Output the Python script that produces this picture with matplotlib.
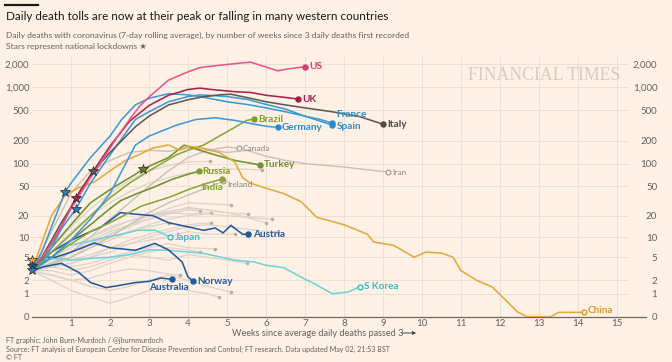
import matplotlib
matplotlib.use('Agg')
import matplotlib.pyplot as plt
import numpy as np
from matplotlib.lines import Line2D

plt.rcParams['font.family'] = ['Lato', 'DejaVu Sans']

BG = '#fff1e5'
W, H = 672, 362

# ---------------- data (weeks since 3 daily deaths, 7-day avg deaths) -------------
y_ticks = [0, 1, 2, 5, 10, 20, 50, 100, 200, 500, 1000, 2000]
y_tick_labels = ['0', '1', '2', '5', '10', '20', '50', '100', '200', '500', '1,000', '2,000']
x_ticks = list(range(1, 16))

us_w = [0, 0.25, 0.5, 0.75, 1.0, 1.25, 1.5, 1.75, 2.0, 2.25, 2.5, 2.75, 3.0, 3.5, 4.0, 4.3, 4.8, 5.2, 5.6, 6.0, 6.3, 6.5, 7.0]
us_v = [3, 5, 8, 14, 25, 40, 65, 100, 160, 250, 380, 560, 750, 1250, 1600, 1820, 1950, 2050, 2150, 1850, 1650, 1730, 1870]

uk_w = [0, 0.25, 0.5, 0.75, 1.0, 1.13, 1.5, 2.0, 2.5, 3.0, 3.5, 4.0, 4.3, 4.7, 5.2, 5.6, 6.0, 6.4, 6.83]
uk_v = [3, 5, 8, 14, 26, 35, 70, 170, 360, 580, 790, 940, 980, 930, 880, 860, 790, 750, 705]

italy_w = [0, 0.25, 0.5, 0.75, 1.0, 1.25, 1.57, 2.0, 2.65, 3.0, 3.5, 4.0, 4.36, 4.8, 5.1, 5.5, 6.0, 6.5, 7.0, 7.7, 8.4, 9.0]
italy_v = [3, 5, 9, 16, 26, 45, 79, 140, 305, 420, 590, 690, 750, 800, 815, 740, 650, 590, 540, 480, 415, 330]

spain_w = [0, 0.25, 0.5, 0.85, 1.0, 1.5, 2.0, 2.3, 2.65, 3.0, 3.5, 4.0, 4.36, 5.0, 5.5, 6.0, 6.5, 7.0, 7.4, 7.7]
spain_v = [3, 6, 14, 42, 55, 120, 230, 380, 590, 720, 830, 800, 750, 650, 600, 540, 480, 420, 360, 320]

france_w = [0, 0.25, 0.5, 0.75, 1.13, 1.5, 2.0, 2.65, 3.0, 3.5, 4.0, 4.3, 4.7, 5.0, 5.5, 6.0, 6.5, 7.0, 7.4, 7.7]
france_v = [3, 4, 7, 13, 25, 55, 130, 380, 480, 650, 760, 800, 780, 760, 700, 600, 520, 420, 380, 340]

germany_w = [0, 0.5, 1.0, 1.5, 2.0, 2.65, 3.0, 3.7, 4.2, 4.7, 5.2, 5.7, 6.0, 6.3]
germany_v = [3, 5, 9, 18, 40, 175, 230, 320, 380, 400, 370, 330, 310, 300]

brazil_w = [0, 0.5, 1.0, 1.5, 2.0, 2.5, 3.0, 3.7, 4.0, 4.4, 4.8, 5.2, 5.5, 5.7]
brazil_v = [3, 6, 11, 20, 35, 55, 80, 130, 150, 175, 230, 300, 370, 385]

turkey_w = [0, 0.5, 1.0, 1.5, 2.0, 2.27, 2.65, 2.85, 3.5, 3.9, 4.3, 4.7, 5.2, 5.85]
turkey_v = [3, 7, 15, 30, 45, 55, 72, 85, 120, 175, 150, 130, 110, 96]

russia_w = [0, 0.5, 1.0, 1.5, 2.0, 2.27, 2.7, 3.1, 3.6, 4.0, 4.27]
russia_v = [3, 5, 9, 15, 25, 32, 40, 48, 62, 72, 79]

india_w = [0, 0.5, 1.0, 1.5, 2.0, 2.27, 2.8, 3.55, 4.0, 4.5, 4.86]
india_v = [3, 5, 8, 12, 16, 19, 27, 36, 45, 55, 62]

ireland_w = [0, 0.5, 1.0, 1.5, 2.0, 2.5, 3.0, 3.5, 4.0, 4.5, 4.9]
ireland_v = [3, 4, 5, 7, 10, 15, 22, 30, 38, 48, 58]

canada_w = [0, 0.5, 1.0, 1.5, 2.0, 2.5, 3.0, 3.5, 4.0, 4.5, 5.0, 5.3]
canada_v = [3, 4, 6, 10, 18, 30, 50, 80, 120, 150, 165, 159]

iran_w = [0, 0.5, 1.0, 1.5, 2.0, 2.5, 3.0, 3.5, 4.0, 4.5, 5.0, 5.5, 6.0, 6.5, 7.0, 7.5, 8.0, 8.5, 9.13]
iran_v = [3, 12, 40, 80, 110, 140, 150, 145, 160, 155, 140, 150, 125, 110, 100, 95, 90, 84, 77]

china_w = [0, 0.5, 0.85, 1.2, 1.6, 2.0, 2.4, 2.73, 3.1, 3.5, 3.8, 4.0, 4.36, 4.8, 5.2, 5.4, 5.6, 6.0, 6.45, 6.9, 7.3, 8.0,
           8.6, 8.76, 9.27, 9.8, 10.1, 10.5, 10.8, 11.0, 11.4, 11.8, 12.2, 12.45, 12.7, 13.3, 13.5, 14.15]
china_v = [3, 20, 38, 48, 57, 80, 110, 130, 160, 176, 150, 170, 160, 140, 105, 65, 55, 47, 40, 31, 19, 15,
           11, 8.5, 7.6, 5, 6, 5.8, 5, 3, 2, 1.45, 0.55, 0.15, 0, 0, 0.14, 0.14]

japan_w = [0, 0.3, 0.6, 0.93, 1.4, 1.9, 2.3, 2.7, 3.15, 3.55]
japan_v = [3, 4, 5.5, 7.6, 8.5, 10, 11, 12.5, 12.6, 10]

skorea_w = [0, 0.3, 0.6, 1.0, 1.5, 2.0, 2.5, 3.0, 3.5, 4.36, 5.2, 5.7, 6.0, 6.45, 6.9, 7.3, 7.7, 8.1, 8.4]
skorea_v = [3, 4.5, 4.8, 4.5, 4.8, 5, 5.5, 6.5, 6.4, 5.8, 4.5, 4.2, 3.7, 3.4, 2.3, 1.6, 1.0, 1.1, 1.45]

austria_w = [0, 0.5, 1.0, 1.5, 1.78, 2.27, 2.65, 3.1, 3.5, 4.0, 4.4, 4.7, 4.9, 5.1, 5.4, 5.55]
austria_v = [3, 6, 9, 12, 14, 22, 21, 20, 16, 14, 12.5, 13.5, 11.5, 14.7, 11, 11]

norway_w = [0, 0.3, 0.6, 1.0, 1.6, 2.0, 2.65, 3.15, 3.5, 3.85, 4.0, 4.14]
norway_v = [3, 5, 5, 6, 8.2, 7, 6.4, 8.1, 6.5, 4.2, 2.3, 1.9]

australia_w = [0, 0.3, 0.75, 1.2, 1.5, 1.9, 2.3, 2.65, 3.0, 3.3, 3.58]
australia_v = [3, 3.5, 4.0, 2.8, 1.8, 1.4, 1.6, 1.8, 1.9, 2.2, 2.1]

# other countries (grey, unlabelled); half-week samples from week 0
grey_a = [3, 4, 6, 9, 12, 15, 18, 21, 24, 23]
grey_b = [3, 5, 7, 10, 14, 17, 20, 22, 21, 22]
grey_c = [3, 4, 5, 8, 11, 15, 20, 25, 30, 29, 28]
grey_d = [3, 4, 6, 8, 11, 14, 18, 22, 26, 24, 22, 21]
grey_e = [3, 5, 7, 10, 13, 17, 20, 23, 25, 24, 22, 19, 16]
grey_f = [3, 4, 5, 7, 9, 12, 15, 18, 20, 21, 20, 19, 18]
grey_g = [3, 3.5, 4, 5, 7, 9, 11, 13, 15, 16]
grey_h = [3, 3, 2.5, 3, 4, 5, 6, 7, 6.5, 6]
grey_i = [3, 4, 3.5, 4, 5, 6, 7, 8, 7, 6.7]
grey_j = [3, 3.5, 4, 5, 6, 8, 9, 10, 12, 11, 11]
grey_k = [3, 2.5, 2, 1.5, 1.2, 1.5, 2, 2.5, 2, 1.5, 1.1]
grey_l = [3, 2, 1.2, 0.8, 0.5, 0.8, 1.2, 1.5, 1.2, 1.0, 0.8]
grey_m = [3, 6, 12, 20, 30, 42, 55, 65, 75, 82, 85, 84, 82]
grey_n = [3, 7, 14, 25, 40, 60, 80, 95, 105, 107]
grey_o = [3, 2.5, 2, 2.2, 2.8, 3.2, 3, 2.6, 2.5]
grey_p = [3, 4, 4.5, 5.5, 7, 8, 10, 12, 14, 15, 14, 13, 12, 12]
grey_q = [3, 3.5, 3, 3.5, 4.5, 5.5, 5, 4.5, 5.5, 5, 4.5, 4]
grey_r = [3, 4.5, 6, 8, 10, 12, 14, 16]

# lockdown stars (week, deaths)
star_w = [0.85, 1.13, 1.13, 1.57, 2.85, 0.0, 0.0, 0.0]
star_v = [42, 35, 25, 79, 85, 4.6, 3.6, 3.1]

# ---------------- colours -------------
C_US, C_UK = '#e4578a', '#a8234f'
C_IT = '#5e5a57'
C_BLUE = '#3d9ad6'
C_GREEN, C_GREEN2 = '#8aa63a', '#6f9330'
C_CHINA = '#e8a83c'
C_CYAN = '#6fd3d8'
C_NAVY = '#215a9c'
C_GREYLINE = '#ddd3ca'
C_GREYMARK = '#b9aea6'
C_TEXT = '#66605c'

fig = plt.figure(figsize=(W / 100, H / 100), dpi=100, facecolor=BG)
x0, x1, ytop, ybot = 32, 628.7, 57, 316.7
ax = fig.add_axes([x0 / W, 1 - ybot / H, (x1 - x0) / W, (ybot - ytop) / H])
ax.set_facecolor(BG)


def fwd(v):
    return np.log10(1 + np.maximum(np.asarray(v, dtype=float), -0.999))


def inv(y):
    return 10 ** np.asarray(y, dtype=float) - 1


ax.set_yscale('function', functions=(fwd, inv))
ax.set_xlim(0, 15.3)
ax.set_ylim(0, 2506)
for s in ax.spines.values():
    s.set_visible(False)
ax.set_yticks(y_ticks)
ax.set_yticklabels(y_tick_labels)
ax.set_xticks(x_ticks)
ax.set_xticklabels([str(t) for t in x_ticks])
ax.yaxis.set_minor_locator(matplotlib.ticker.NullLocator())
ax.tick_params(axis='both', length=0, labelsize=7, colors=C_TEXT)
ax.tick_params(axis='y', pad=2)
ax.tick_params(axis='x', pad=2)
ax.grid(True, color='#ecdfd3', lw=0.7, zorder=0)
ax.set_axisbelow(True)

ax2 = ax.twinx()
ax2.set_yscale('function', functions=(fwd, inv))
ax2.set_ylim(0, 2506)
for s in ax2.spines.values():
    s.set_visible(False)
ax2.set_yticks(y_ticks)
ax2.set_yticklabels(y_tick_labels)
ax2.yaxis.set_minor_locator(matplotlib.ticker.NullLocator())
ax2.tick_params(axis='y', length=0, labelsize=7, colors=C_TEXT, pad=20.5)
for lab in ax2.get_yticklabels():
    lab.set_horizontalalignment('right')

# baseline
ax.plot([0, 15.75], [0, 0], color='#6e6864', lw=0.9, clip_on=False, zorder=1)

# grey lines
greys = [(grey_a, 4.3), (grey_b, 4.6), (grey_c, 5.1), (grey_d, 5.55), (grey_e, 6.0), (grey_f, 6.15),
         (grey_g, 4.6), (grey_h, 4.3), (grey_i, 4.7), (grey_j, 5.2), (grey_k, 5.1), (grey_l, 4.8),
         (grey_m, 5.9), (grey_n, 4.57), (grey_o, 3.8), (grey_p, 6.3), (grey_q, 5.5), (grey_r, 3.5)]
for vals, end in greys:
    n = len(vals)
    wk = [i * 0.5 for i in range(n - 1)] + [end]
    ax.plot(wk, vals, color=C_GREYLINE, lw=0.9, zorder=2)
    ax.plot(wk[-1], vals[-1], 'o', color=C_GREYMARK, ms=2.6, mec='none', zorder=2)

for w_, v_ in [(canada_w, canada_v), (iran_w, iran_v), (ireland_w, ireland_v)]:
    ax.plot(w_, v_, color='#c9c0b8', lw=1.0, zorder=3)
    ax.plot(w_[-1], v_[-1], 'o', ms=3.5, mfc=BG, mec='#a39a93', mew=0.9, zorder=3)

series = [
    (skorea_w, skorea_v, C_CYAN), (japan_w, japan_v, C_CYAN),
    (australia_w, australia_v, C_NAVY), (norway_w, norway_v, C_NAVY), (austria_w, austria_v, C_NAVY),
    (india_w, india_v, C_GREEN), (russia_w, russia_v, C_GREEN2), (turkey_w, turkey_v, C_GREEN2),
    (brazil_w, brazil_v, C_GREEN), (china_w, china_v, C_CHINA),
    (germany_w, germany_v, C_BLUE), (france_w, france_v, C_BLUE), (spain_w, spain_v, C_BLUE),
    (italy_w, italy_v, C_IT), (uk_w, uk_v, C_UK), (us_w, us_v, C_US),
]
for w_, v_, c in series:
    ax.plot(w_, v_, color=c, lw=1.15, zorder=4, solid_joinstyle='round')

# end markers + labels
labels = [
    ('US', us_w, us_v, '#d63a72', (3, 0), 'left', True),
    ('UK', uk_w, uk_v, '#a01f4b', (3, 0), 'left', True),
    ('Italy', italy_w, italy_v, '#4f4b48', (3, 0), 'left', True),
    ('France', france_w, france_v, '#2b8ccc', (3, 6), 'left', True),
    ('Spain', spain_w, spain_v, '#2b8ccc', (3, -1), 'left', True),
    ('Germany', germany_w, germany_v, '#2b8ccc', (3, 0), 'left', True),
    ('Brazil', brazil_w, brazil_v, '#7f9c2f', (3, 0), 'left', True),
    ('Turkey', turkey_w, turkey_v, '#6f9330', (3, 0), 'left', True),
    ('Russia', russia_w, russia_v, '#7f9c2f', (3, 0), 'left', True),
    ('India', india_w, india_v, '#8aa63a', (1, -6), 'right', True),
    ('Japan', japan_w, japan_v, '#2fc0c8', (3, 0), 'left', True),
    ('S Korea', skorea_w, skorea_v, '#2fc0c8', (3, 0), 'left', True),
    ('Austria', austria_w, austria_v, '#215a9c', (3, 0), 'left', True),
    ('Norway', norway_w, norway_v, '#215a9c', (3, 0), 'left', True),
    ('Australia', australia_w, australia_v, '#215a9c', (-2, -6), 'center', True),
    ('China', china_w, china_v, '#dc9a22', (3, 1), 'left', True),
    ('Canada', canada_w, canada_v, '#8c8580', (3, 0), 'left', False),
    ('Iran', iran_w, iran_v, '#8c8580', (3, 0), 'left', False),
    ('Ireland', ireland_w, ireland_v, '#8c8580', (3, -2.5), 'left', False),
]
for name, w_, v_, c, off, ha, bold in labels:
    if bold:
        if name in ('Japan', 'China', 'S Korea'):
            ax.plot(w_[-1], v_[-1], 'o', ms=3.5, mfc=BG, mec=c, mew=1.0, zorder=6)
        else:
            ax.plot(w_[-1], v_[-1], 'o', ms=3.6, color=c, zorder=6)
    ax.annotate(name, (w_[-1], v_[-1]), xytext=off, textcoords='offset points',
                ha=ha, va='center', color=c, fontsize=7.2 if bold else 6,
                fontweight='bold' if bold else 'normal', zorder=7)

star_c = ['#2a7fc0', '#a8234f', '#2a7fc0', '#5e5a57', '#6a7a2a', '#e8a83c', '#215a9c', '#2a7fc0']
for w_, v_, c in zip(star_w, star_v, star_c):
    ax.plot(w_, v_, marker='*', ms=7, color=c, mec='#2b2724', mew=0.5, zorder=8, clip_on=False)

# watermark
fig.text(468 / W, 1 - 75 / H, 'FINANCIAL TIMES', family='Liberation Serif', fontsize=12.8,
         color='#d6ccc4', va='center', ha='left', zorder=0)

# header
fig.add_artist(Line2D([5 / W, 38 / W], [1 - 4.5 / H, 1 - 4.5 / H], color='#1a1a1a', lw=1.6))
fig.text(6 / W, 1 - 17 / H, 'Daily death tolls are now at their peak or falling in many western countries',
         fontsize=8.4, color='#1a1817', va='center', ha='left')
fig.text(6 / W, 1 - 35 / H,
         'Daily deaths with coronavirus (7-day rolling average), by number of weeks since 3 daily deaths first recorded',
         fontsize=6.1, color=C_TEXT, va='center', ha='left')
fig.text(6 / W, 1 - 47 / H, 'Stars represent national lockdowns ★', fontsize=6.1, color=C_TEXT,
         va='center', ha='left')

# x label with arrow
fig.text(232 / W, 1 - 333 / H, 'Weeks since average daily deaths passed 3', fontsize=6.6,
         color=C_TEXT, va='center', ha='left')
fig.add_artist(matplotlib.patches.FancyArrowPatch((399 / W, 1 - 333 / H), (419 / W, 1 - 333 / H),
               transform=fig.transFigure, arrowstyle='-|>', mutation_scale=5, color='#4a4542', lw=0.7))

# footer
fig.text(6 / W, 1 - 340 / H, 'FT graphic: John Burn-Murdoch / @jburnmurdoch', fontsize=5.1, color=C_TEXT,
         va='center', ha='left')
fig.text(6 / W, 1 - 349 / H,
         'Source: FT analysis of European Centre for Disease Prevention and Control; FT research. Data updated May 02, 21:53 BST',
         fontsize=5.1, color=C_TEXT, va='center', ha='left')
fig.text(6 / W, 1 - 357 / H, '© FT', fontsize=5.1, color=C_TEXT, va='center', ha='left')

fig.savefig('out.png', dpi=100, facecolor=BG)
